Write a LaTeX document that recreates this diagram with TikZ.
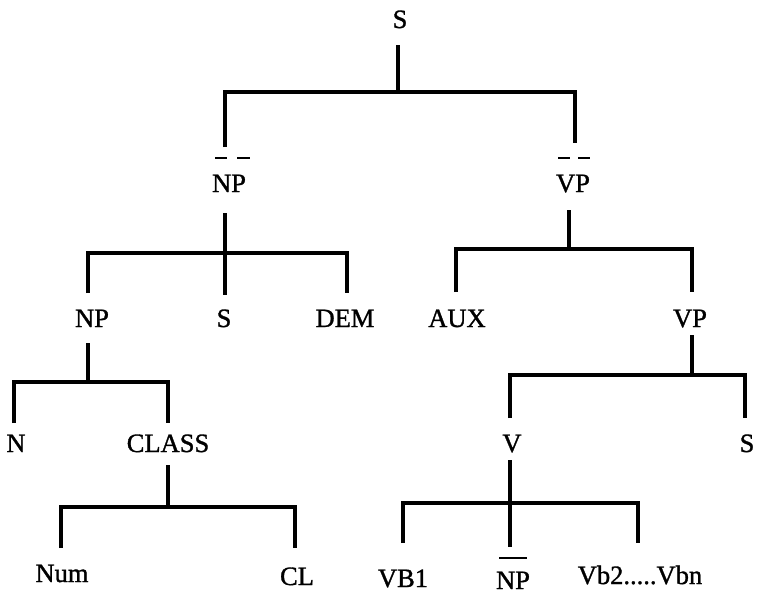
\documentclass[tikz,border=0pt]{standalone}
\usepackage{fontspec}
\setmainfont[FakeBold=1.2]{Liberation Serif}
\begin{document}
\begin{tikzpicture}[x=1pt,y=-1pt,
  lab/.style={anchor=base,inner sep=0pt,font=\fontsize{26.5}{30}\selectfont},
  tree/.style={line width=3.1pt,line join=miter,line cap=butt},
  ovl/.style={line width=1.6pt}]
\useasboundingbox (0,0) rectangle (757,595);
% ---- labels ----
\node[lab] (S0)   at (400,28)  {S};
\node[lab] (NPb)  at (229,192) {NP};
\node[lab] (VPb)  at (573,192) {VP};
\node[lab] (NP2)  at (92,327)  {NP};
\node[lab] (S1)   at (224,327) {S};
\node[lab] (DEM)  at (345,327) {DEM};
\node[lab] (AUX)  at (457,327) {AUX};
\node[lab] (VP2)  at (690,327) {VP};
\node[lab] (N)    at (16,452)  {N};
\node[lab] (CLASS) at (168,452) {CLASS};
\node[lab] (V)    at (512,452) {V};
\node[lab] (S2)   at (747,452) {S};
\node[lab] (Num)  at (62,582)  {Num};
\node[lab] (CL)   at (297,585) {CL};
\node[lab] (VB1)  at (403,587) {VB1};
\node[lab] (NP3)  at (513,589) {NP};
\node[lab] (Vbn)  at (640,584) {Vb2.....Vbn};
% ---- overlines ----
\draw[ovl] (215,158) -- (227,158) (237,158) -- (250,158);
\draw[ovl] (558,158) -- (570,158) (578,158) -- (590,158);
\draw[ovl] (499,558) -- (527,558);
% ---- connector end points ----
\coordinate (S0s)   at (398,45);
\coordinate (S0m)   at (398,92);
\coordinate (NPbt)  at (225,147);
\coordinate (VPbt)  at (575,143);
\coordinate (NPbs)  at (225,213);
\coordinate (NPbm)  at (225,253);
\coordinate (NP2t)  at (88,293);
\coordinate (S1t)   at (225,295);
\coordinate (DEMt)  at (347,293);
\coordinate (VPbs)  at (569,210);
\coordinate (VPbm)  at (569,249);
\coordinate (AUXt)  at (456,292);
\coordinate (VP2t)  at (692,292);
\coordinate (NP2s)  at (88,343);
\coordinate (NP2m)  at (88,382);
\coordinate (Nt)    at (14,423);
\coordinate (CLASSt) at (168,423);
\coordinate (CLASSs) at (168,465);
\coordinate (CLASSm) at (168,507);
\coordinate (Numt)  at (61,548);
\coordinate (CLt)   at (295,548);
\coordinate (VP2s)  at (692,335);
\coordinate (VP2m)  at (692,375);
\coordinate (Vt)    at (510,418);
\coordinate (S2t)   at (745,418);
\coordinate (Vs)    at (510,460);
\coordinate (Vm)    at (510,503);
\coordinate (VB1t)  at (403,543);
\coordinate (NP3t)  at (510,547);
\coordinate (Vbnt)  at (638,543);
% ---- tree lines ----
\draw[tree] (S0s) -- (S0m);
\draw[tree] (NPbt) |- (S0m) -| (VPbt);
\draw[tree] (NPbs) -- (S1t);
\draw[tree] (NP2t) |- (NPbm) -| (DEMt);
\draw[tree] (VPbs) -- (VPbm);
\draw[tree] (AUXt) |- (VPbm) -| (VP2t);
\draw[tree] (NP2s) -- (NP2m);
\draw[tree] (Nt) |- (NP2m) -| (CLASSt);
\draw[tree] (CLASSs) -- (CLASSm);
\draw[tree] (Numt) |- (CLASSm) -| (CLt);
\draw[tree] (VP2s) -- (VP2m);
\draw[tree] (Vt) |- (VP2m) -| (S2t);
\draw[tree] (Vs) -- (NP3t);
\draw[tree] (VB1t) |- (Vm) -| (Vbnt);
\end{tikzpicture}
\end{document}
